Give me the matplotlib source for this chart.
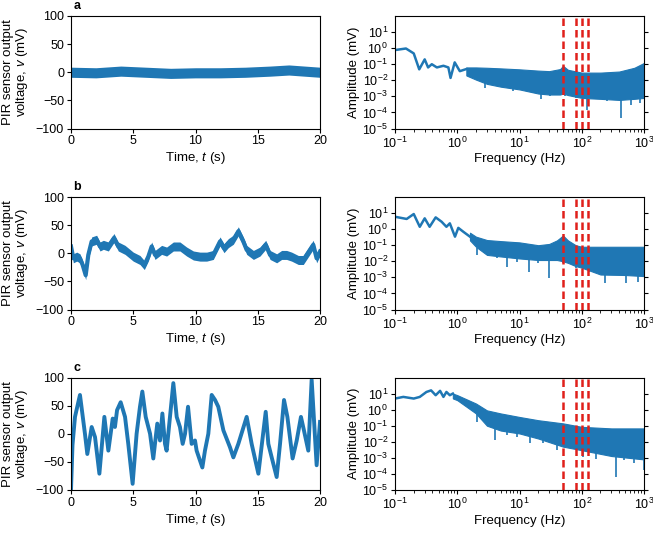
import numpy as np
import matplotlib
matplotlib.use("Agg")
import matplotlib.pyplot as plt
from matplotlib.ticker import LogLocator, NullLocator, NullFormatter

plt.rcParams['font.family'] = ['Liberation Sans', 'DejaVu Sans']
plt.rcParams['mathtext.fontset'] = 'custom'
plt.rcParams['mathtext.rm'] = 'Liberation Sans'
plt.rcParams['mathtext.it'] = 'Liberation Sans:italic'
plt.rcParams['mathtext.bf'] = 'Liberation Sans:bold'

# ---- time traces (centre line of the trace, mV) ----
t_a = [0, 2, 4, 6, 8, 10, 12, 14, 16, 17.5, 20]
v_a = [0, -1, 2, 0, -2, -1, -1, 0, 2, 4, 0]
noise_a = 9

t_b = [0, 0.19, 0.46, 0.72, 0.94, 1.18, 1.39, 1.66, 2.06, 2.33, 2.6, 3.0, 3.45, 3.8,
       4.34, 5.0, 5.54, 5.89, 6.21, 6.48, 6.75, 7.28, 7.68, 8.22, 8.75, 9.29, 9.83,
       10.36, 10.9, 11.43, 11.97, 12.29, 12.64, 13.04, 13.44, 13.84, 14.11, 14.65,
       15.18, 15.64, 15.99, 16.52, 16.92, 17.32, 17.72, 18.26, 18.66, 19.46, 19.73, 20]
v_b = [12, -9, -6, -9, -21, -39, -3, 21, 24, 12, 15, 12, 27, 12,
       6, -6, -12, -21, -6, 12, -3, 6, 3, 12, 12, 3, -4,
       -6, -6, -3, 21, 9, 18, 24, 39, 21, 6, -3,
       3, 15, -3, -9, -3, -3, -6, -12, -12, 15, -9, 3]
noise_b = 8

t_c = [0, 0.12, 0.32, 0.72, 1.12, 1.31, 1.66, 1.93, 2.28, 2.68, 3.0, 3.35, 3.53, 3.7,
       3.99, 4.34, 4.6, 4.95, 5.27, 5.54, 5.73, 6.0, 6.35, 6.61, 6.93, 7.15, 7.34,
       7.55, 7.68, 7.95, 8.22, 8.49, 8.75, 8.97, 9.16, 9.4, 9.69, 9.96, 10.09, 10.55,
       10.76, 11.03, 11.3, 11.57, 11.83, 12.24, 12.77, 13.04, 13.44, 14.11, 14.51,
       15.05, 15.64, 15.85, 16.12, 16.52, 16.79, 17.11, 17.38, 17.8, 18.13, 18.47,
       18.71, 19.06, 19.33, 19.73, 20]
v_c = [-100, -20, 30, 69, 0, -36, 12, -6, -71, 30, -30, 27, 12, 42,
       56, 30, -18, -89, 0, 48, 75, 30, 0, -44, 18, -12, 36,
       -18, -30, 30, 90, 30, 12, -18, 0, 48, -18, -12, -30, -60,
       -30, 0, 69, 60, 48, 6, -24, -42, -18, 30, -18,
       -71, 39, -18, -42, -77, -18, 60, 30, -44, -12, 30,
       6, -30, 96, -56, 21]

# ---- spectra (mV) ----
red_f = [50, 80, 100, 125]

fl_a = [0.1, 0.15, 0.2, 0.245, 0.3, 0.34, 0.39, 0.47, 0.6, 0.72, 0.78, 0.91, 1.1, 1.4]
al_a = [0.76, 0.95, 0.47, 0.048, 0.2, 0.063, 0.1, 0.063, 0.08, 0.063, 0.014, 0.13, 0.037, 0.05]
fb_a = [1.4, 2, 3, 5, 10, 20, 30, 45, 50, 60, 100, 200, 400, 700, 1000]
up_a = [0.063, 0.063, 0.06, 0.055, 0.048, 0.04, 0.037, 0.05, 0.079, 0.045, 0.03, 0.03, 0.035, 0.06, 0.12]
lo_a = [0.02, 0.011, 0.006, 0.004, 0.0027, 0.0015, 0.0013, 0.0013, 0.0015, 0.0012, 0.0008,
        0.0007, 0.0006, 0.0007, 0.0008]
sf_a = [2.05, 2.8, 5.4, 7.9, 11.5, 16.7, 22, 30.6, 53, 82, 120, 170, 250, 430, 620, 850]
sv_a = [0.011, 0.0035, 0.0055, 0.0021, 0.0035, 0.0017, 0.00065, 0.001, 0.001, 0.0008,
        0.00015, 0.00065, 0.0005, 4.7e-5, 0.0003, 0.0004]

fl_b = [0.1, 0.154, 0.2, 0.25, 0.3, 0.36, 0.45, 0.56, 0.67, 0.76, 0.92, 1.04, 1.25, 1.6]
al_b = [5.9, 4.3, 8.7, 1.4, 4.7, 1.4, 5.4, 2.9, 1.4, 2.3, 0.34, 1.2, 0.69, 0.34]
fb_b = [1.6, 2, 3, 5, 10, 20, 30, 40, 50, 60, 80, 100, 200, 500, 1000]
up_b = [0.6, 0.34, 0.21, 0.18, 0.15, 0.1, 0.12, 0.2, 0.4, 0.2, 0.1, 0.08, 0.08, 0.08, 0.08]
lo_b = [0.2, 0.08, 0.025, 0.02, 0.015, 0.012, 0.012, 0.012, 0.01, 0.008, 0.005, 0.004,
        0.0015, 0.0014, 0.0012]
sf_b = [2.1, 3.0, 4.3, 6.2, 9, 14, 20, 30, 50, 82, 130, 235, 520, 800]
sv_b = [0.025, 0.031, 0.015, 0.0046, 0.009, 0.0022, 0.0073, 0.00085, 0.0073, 0.0036,
        0.0022, 0.00043, 0.00043, 0.00055]

fl_c = [0.1, 0.136, 0.2, 0.25, 0.32, 0.38, 0.45, 0.53, 0.6, 0.67, 0.76, 0.85]
al_c = [4.9, 6.2, 4.9, 6.2, 12.6, 15.8, 7.9, 14.8, 6.2, 12.6, 7.9, 10]
fb_c = [0.85, 1, 2, 3, 5, 10, 20, 50, 100, 300, 1000]
up_c = [10, 8, 2.4, 0.9, 0.58, 0.35, 0.22, 0.14, 0.085, 0.068, 0.068]
lo_c = [5, 3.9, 0.58, 0.1, 0.05, 0.033, 0.016, 0.005, 0.003, 0.0013, 0.0008]
sf_c = [2.05, 4, 6.2, 9, 14.6, 24, 40, 105, 170, 360, 470, 680, 1000]
sv_c = [0.17, 0.0126, 0.026, 0.02, 0.008, 0.008, 0.003, 0.0012, 0.0008, 6.6e-5, 0.00074,
        0.0005, 0.00018]

blue = '#1f77b4'
W, H = 653, 536
fig = plt.figure(figsize=(W / 100, H / 100), dpi=100)

rows_top = [16, 197, 377.5]
ax_h = 112.5
ax_w = 249
labels = ['a', 'b', 'c']
traces = [(t_a, v_a, noise_a), (t_b, v_b, noise_b), (t_c, v_c, 0)]
spectra = [(fl_a, al_a, fb_a, up_a, lo_a, sf_a, sv_a),
           (fl_b, al_b, fb_b, up_b, lo_b, sf_b, sv_b),
           (fl_c, al_c, fb_c, up_c, lo_c, sf_c, sv_c)]

for i in range(3):
    bottom = 1 - (rows_top[i] + ax_h) / H
    axl = fig.add_axes([71 / W, bottom, ax_w / W, ax_h / H])
    axr = fig.add_axes([395 / W, bottom, ax_w / W, ax_h / H])

    # time trace
    t, v, nz = traces[i]
    t = np.array(t); v = np.array(v)
    if nz > 0:
        axl.fill_between(t, v - nz, v + nz, color=blue, lw=0)
        axl.plot(t, v, color=blue, lw=3)
    else:
        axl.plot(t, v, color=blue, lw=2.8, solid_joinstyle='round')
    axl.set_xlim(0, 20)
    axl.set_ylim(-100, 100)
    axl.set_xticks([0, 5, 10, 15, 20])
    axl.set_yticks([-100, -50, 0, 50, 100])
    axl.set_yticklabels(['\u2212100', '\u221250', '0', '50', '100'])
    axl.set_xlabel('Time, $\\mathit{t}$ (s)', fontsize=9.5, labelpad=2)
    axl.set_ylabel('PIR sensor output\nvoltage, $\\mathit{v}$ (mV)', fontsize=9.5,
                   linespacing=1.0, labelpad=4)
    axl.tick_params(direction='out', length=3, labelsize=9, pad=2)
    axl.text(0.01, 1.035, labels[i], transform=axl.transAxes, fontsize=9,
             fontweight='bold', va='bottom', ha='left')

    # spectrum
    fl, al, fb, up, lo, sf, sv = spectra[i]
    axr.fill_between(fb, lo, up, color=blue, lw=0.8, edgecolor=blue)
    axr.plot(fl, al, color=blue, lw=1.8)
    lo_at = np.exp(np.interp(np.log(sf), np.log(fb), np.log(lo)))
    axr.vlines(sf, sv, lo_at, color=blue, lw=1.2)
    for f in red_f:
        axr.axvline(f, color='#e0201b', lw=1.8, ls=(0, (3, 1.6)))
    axr.set_xscale('log')
    axr.set_yscale('log')
    axr.set_xlim(0.1, 1000)
    axr.set_ylim(1e-5, 1e2)
    axr.set_yticks([1e-5, 1e-4, 1e-3, 1e-2, 1e-1, 1e0, 1e1])
    axr.yaxis.set_minor_locator(NullLocator())
    axr.xaxis.set_minor_locator(LogLocator(base=10, subs=np.arange(2, 10), numticks=20))
    axr.xaxis.set_minor_formatter(NullFormatter())
    axr.set_xlabel('Frequency (Hz)', fontsize=9.5, labelpad=2)
    axr.set_ylabel('Amplitude (mV)', fontsize=9.5, labelpad=2)
    axr.tick_params(which='both', direction='out', labelsize=9, pad=2)
    axr.tick_params(which='major', length=3)
    axr.tick_params(which='minor', length=2)
    axr.tick_params(axis='y', which='major', right=True)

fig.savefig('out.png', dpi=100)
